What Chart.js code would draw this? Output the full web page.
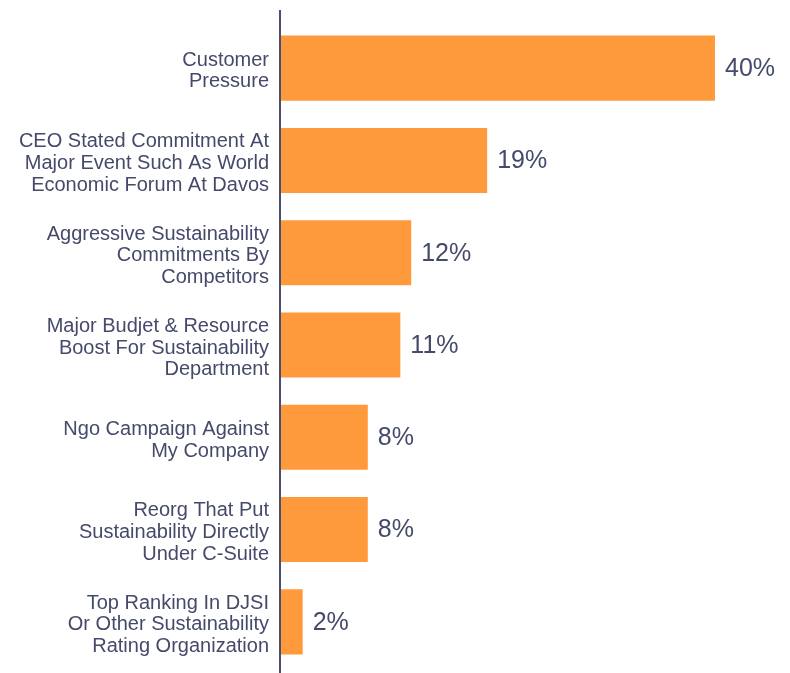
<!DOCTYPE html>
<html>
<head>
<meta charset="utf-8">
<script src="https://cdn.jsdelivr.net/npm/chart.js@4"></script>
<style>
  html, body { margin: 0; padding: 0; background: #fff; }
  #wrap { width: 790px; height: 673px; position: relative; }
</style>
</head>
<body>
<div id="wrap"><canvas id="driverChart"></canvas></div>
<script>
const categories = [
    ['Customer', 'Pressure'],
    ['CEO Stated Commitment At', 'Major Event Such As World', 'Economic Forum At Davos'],
    ['Aggressive Sustainability', 'Commitments By', 'Competitors'],
    ['Major Budjet & Resource', 'Boost For Sustainability', 'Department'],
    ['Ngo Campaign Against', 'My Company'],
    ['Reorg That Put', 'Sustainability Directly', 'Under C-Suite'],
    ['Top Ranking In DJSI', 'Or Other Sustainability', 'Rating Organization']
];
const shares = [40, 19, 12, 11, 8, 8, 2];

const barColor = '#ff9a3c';
const textColor = '#454a6b';
const fontFamily = '"Liberation Sans", Arial, Helvetica, sans-serif';

// percentage text to the right of each bar
const valueLabels = {
    id: 'valueLabels',
    afterDatasetsDraw(chart) {
        const ctx = chart.ctx;
        const meta = chart.getDatasetMeta(0);
        ctx.save();
        ctx.font = '25px ' + fontFamily;
        ctx.fillStyle = textColor;
        ctx.textAlign = 'left';
        ctx.textBaseline = 'middle';
        meta.data.forEach((bar, i) => {
            ctx.fillText(shares[i] + '%', bar.x + 10, bar.y + 1);
        });
        ctx.restore();
    }
};

// vertical baseline running the full height
const baseline = {
    id: 'baseline',
    afterDraw(chart) {
        const ctx = chart.ctx;
        const x = chart.chartArea.left - 1;
        ctx.save();
        ctx.strokeStyle = '#4a4e6a';
        ctx.lineWidth = 2;
        ctx.beginPath();
        ctx.moveTo(x, 10);
        ctx.lineTo(x, chart.height);
        ctx.stroke();
        ctx.restore();
    }
};

const ctx = document.getElementById('driverChart').getContext('2d');
new Chart(ctx, {
    type: 'bar',
    data: {
        labels: categories,
        datasets: [{
            data: shares,
            backgroundColor: barColor,
            borderWidth: 0,
            barPercentage: 0.705,
            categoryPercentage: 1
        }]
    },
    options: {
        indexAxis: 'y',
        responsive: true,
        maintainAspectRatio: false,
        animation: false,
        layout: { padding: { top: 22, bottom: 5, left: 0, right: 75 } },
        plugins: {
            legend: { display: false },
            tooltip: { enabled: false }
        },
        scales: {
            x: {
                min: 0,
                max: 40,
                display: false
            },
            y: {
                afterFit(axis) {
                    axis.width = 281;
                    axis.paddingTop = 0;
                    axis.paddingBottom = 0;
                },
                grid: { display: false, drawTicks: false },
                border: { display: false },
                ticks: {
                    padding: 12,
                    labelOffset: 3,
                    color: textColor,
                    font: { family: fontFamily, size: 20, lineHeight: 1.08 }
                }
            }
        }
    },
    plugins: [valueLabels, baseline]
});
</script>
</body>
</html>
